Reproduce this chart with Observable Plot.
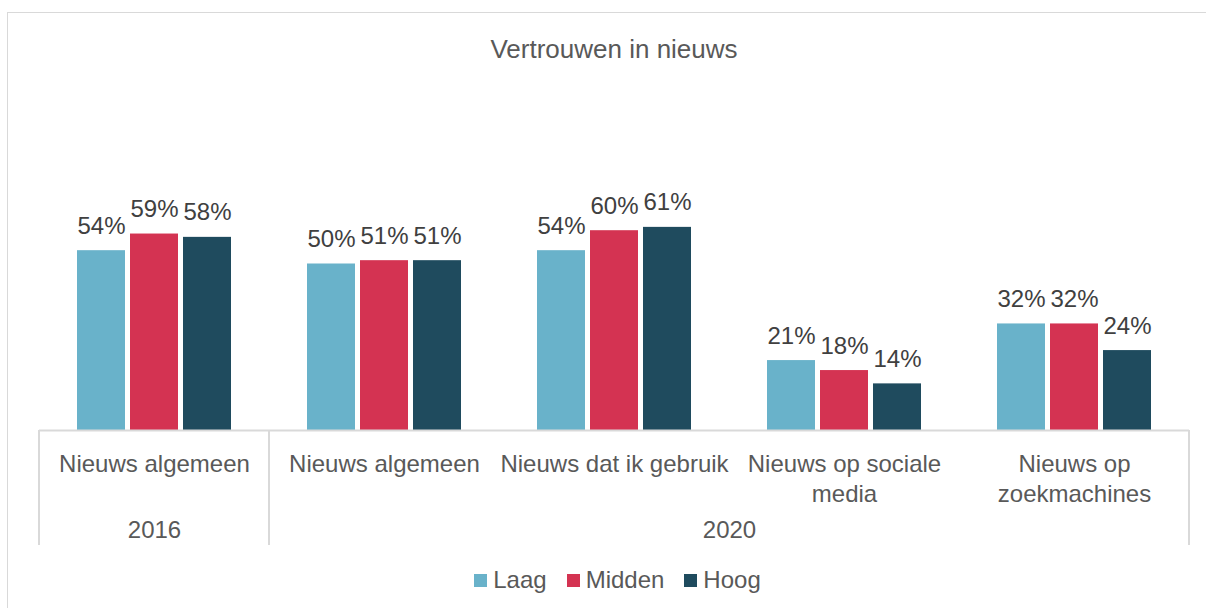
<!DOCTYPE html>
<html>
<head>
<meta charset="utf-8">
<script src="https://cdn.jsdelivr.net/npm/d3@7"></script>
<script src="https://cdn.jsdelivr.net/npm/@observablehq/plot@0.6"></script>
<style>
  html, body { margin: 0; padding: 0; background: #fff; }
  body { width: 1206px; height: 608px; overflow: hidden; position: relative;
         font-family: "Liberation Sans", Arial, sans-serif; }
  #frame { position: absolute; left: 7px; top: 12px; width: 1240px; height: 660px;
           border: 1px solid #d9d9d9; box-sizing: border-box; }
  #title { position: absolute; left: 0; top: 36px; width: 1228px; text-align: center;
           font-size: 26px; line-height: 26px; color: #595959; }
  #chart { position: absolute; left: 0; top: 80px; }
  #legend { position: absolute; left: 0; top: 568px; width: 1235px; display: flex;
            justify-content: center; align-items: center; font-size: 24px; line-height: 24px; color: #595959; }
  .item { display: flex; align-items: center; margin: 0 10px; }
  .sw { width: 13px; height: 13px; margin-right: 6px; }
</style>
</head>
<body>
<div id="frame"></div>
<div id="title">Vertrouwen in nieuws</div>
<div id="chart"></div>
<div id="legend"></div>
<script>
// ---- data ----
const categories = ["Nieuws algemeen", "Nieuws algemeen", "Nieuws dat ik gebruik", "Nieuws op sociale media", "Nieuws op zoekmachines"];
const tickLabels = ["Nieuws algemeen", "Nieuws algemeen", "Nieuws dat ik gebruik", "Nieuws op sociale\nmedia", "Nieuws op\nzoekmachines"];
const years = ["2016", "2020", "2020", "2020", "2020"];
const series = ["Laag", "Midden", "Hoog"];
const laag   = [54, 50, 54, 21, 32];
const midden = [59, 51, 60, 18, 32];
const hoog   = [58, 51, 61, 14, 24];
const colors = ["#69b2ca", "#d43352", "#1f4b5e"];

// ---- table ----
const ids = categories.map((c, i) => years[i] + " | " + c);
const values = {Laag: laag, Midden: midden, Hoog: hoog};
const rows = [];
ids.forEach((id, i) => series.forEach(s => rows.push({id, series: s, value: values[s][i]})));
const labelOf = new Map(ids.map((id, i) => [id, tickLabels[i]]));

const font = '"Liberation Sans", Arial, sans-serif';
const plot = Plot.plot({
  width: 1206,
  height: 470,
  marginLeft: 38,
  marginRight: 16,
  marginTop: 17,
  marginBottom: 120,
  style: {fontFamily: font, background: "transparent", overflow: "visible"},
  fx: {domain: ids, padding: 0, label: null, axis: null},
  x: {domain: series, paddingInner: 0.0926, paddingOuter: 0.68, axis: null},
  y: {domain: [0, 100], axis: null},
  color: {domain: series, range: colors},
  marks: [
    Plot.barY(rows, {fx: "id", x: "series", y: "value", fill: "series"}),
    Plot.text(rows, {fx: "id", x: "series", y: "value", text: d => d.value + "%",
                     lineAnchor: "bottom", dy: -17, fontSize: 24, fill: "#404040"}),
    Plot.ruleY([0], {stroke: "#d9d9d9", strokeWidth: 2}),
    Plot.axisFx({anchor: "bottom", tickSize: 0, tickPadding: 20, fontSize: 24, lineHeight: 1.25,
                 tickFormat: id => labelOf.get(id), color: "#595959", label: null}),
    Plot.text([{id: ids[0], t: years[0]}], {fx: "id", text: "t", frameAnchor: "bottom",
                 dy: 100, lineAnchor: "middle", fontSize: 24, fill: "#595959"}),
    Plot.text([{id: ids[2], t: years[1]}], {fx: "id", text: "t", frameAnchor: "bottom-right",
                 textAnchor: "middle", dy: 100, lineAnchor: "middle", fontSize: 24, fill: "#595959"})
  ]
});

// separators of the multi-level category axis, from the library's scales
const fx = plot.scale("fx");
const y = plot.scale("y");
const y0 = y.apply(0);
const edges = [fx.apply(ids[0]), fx.apply(ids[1]), fx.apply(ids[ids.length - 1]) + fx.bandwidth];
d3.select(plot).append("g")
  .attr("stroke", "#d9d9d9").attr("stroke-width", 2)
  .selectAll("line").data(edges).join("line")
  .attr("x1", d => d).attr("x2", d => d)
  .attr("y1", y0).attr("y2", y0 + 115);

document.getElementById("chart").appendChild(plot);

// legend
const legend = d3.select("#legend");
series.forEach((s, i) => {
  const it = legend.append("div").attr("class", "item");
  it.append("div").attr("class", "sw").style("background", colors[i]);
  it.append("span").text(s);
});
</script>
</body>
</html>
